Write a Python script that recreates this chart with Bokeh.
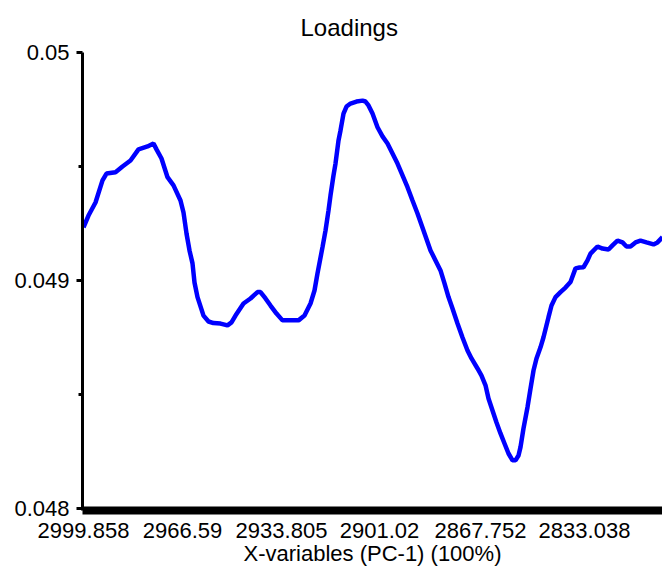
from bokeh.plotting import figure
from bokeh.models import Range1d, FixedTicker
from bokeh.embed import file_html
from bokeh.resources import INLINE

# variable index along the spectrum (left = 2999.858)
var_index = [1, 6, 13, 20, 24, 33, 40, 48, 56, 65, 71, 74, 79, 85, 91, 98, 101, 104, 107, 110,
             112, 115, 121, 126, 131, 138, 145, 149, 153, 161, 168, 175, 178, 183, 188, 194, 200,
             208, 216, 222, 228, 232, 235, 240, 243, 246, 248, 251, 253, 256, 258, 261, 264, 268,
             274, 280, 283, 286, 290, 295, 300, 305, 310, 315, 320, 325, 330, 335, 341, 348, 353,
             358, 362, 366, 370, 375, 380, 385, 389, 395, 399, 403, 406, 410, 414, 418, 422, 426,
             430, 433, 436, 438, 441, 445, 448, 451, 454, 458, 461, 466, 469, 473, 478, 483, 488,
             493, 497, 501, 505, 508, 515, 520, 526, 530, 535, 540, 544, 548, 553, 558, 564, 571,
             575, 580]
loading = [0.049233, 0.049285, 0.049342, 0.049439, 0.049469, 0.049475, 0.049500, 0.049526,
           0.049575, 0.049588, 0.049601, 0.049575, 0.049535, 0.049453, 0.049417, 0.049351,
           0.049298, 0.049206, 0.049132, 0.049075, 0.048991, 0.048927, 0.048846, 0.048820,
           0.048813, 0.048811, 0.048803, 0.048816, 0.048846, 0.048899, 0.048921, 0.048949,
           0.048949, 0.048921, 0.048890, 0.048855, 0.048825, 0.048825, 0.048825, 0.048846,
           0.048899, 0.048956, 0.049031, 0.049146, 0.049219, 0.049307, 0.049373, 0.049461,
           0.049513, 0.049614, 0.049658, 0.049732, 0.049763, 0.049776, 0.049785, 0.049789,
           0.049785, 0.049768, 0.049732, 0.049672, 0.049632, 0.049601, 0.049557, 0.049513,
           0.049461, 0.049409, 0.049351, 0.049294, 0.049219, 0.049132, 0.049088, 0.049044,
           0.048987, 0.048927, 0.048877, 0.048811, 0.048750, 0.048693, 0.048658, 0.048614,
           0.048583, 0.048540, 0.048482, 0.048430, 0.048377, 0.048329, 0.048285, 0.048241,
           0.048211, 0.048211, 0.048232, 0.048269, 0.048351, 0.048444, 0.048526, 0.048605,
           0.048658, 0.048707, 0.048751, 0.048839, 0.048890, 0.048927, 0.048949, 0.048969,
           0.048993, 0.049053, 0.049057, 0.049058, 0.049088, 0.049118, 0.049149, 0.049140,
           0.049136, 0.049154, 0.049175, 0.049167, 0.049149, 0.049149, 0.049167, 0.049175,
           0.049167, 0.049158, 0.049167, 0.049190]

x_tick_pos = [1, 100, 199, 297, 398, 502]
x_tick_labels = ["2999.858", "2966.59", "2933.805", "2901.02", "2867.752", "2833.038"]
y_ticks = [0.048, 0.049, 0.05]
y_tick_labels = ["0.048", "0.049", "0.05"]
y_minor_ticks = [0.0485, 0.0495]

FONT = "Liberation Sans"

p = figure(width=662, height=569, output_backend="svg", toolbar_location=None,
           x_range=Range1d(0, 580), y_range=Range1d(0.047991, 0.05),
           min_border_left=82, min_border_right=0, min_border_top=52, min_border_bottom=59)

p.title.text = "Loadings"
p.title.text_font = FONT
p.title.text_font_size = "24px"
p.title.text_font_style = "normal"
p.title.align = "left"
p.title.offset = 218
p.title.standoff = 23
p.title.text_color = "black"

p.grid.visible = False
p.outline_line_color = None
p.background_fill_color = "white"
p.border_fill_color = "white"

p.line(var_index, loading, line_color="#0000ff", line_width=4.5)

xa = p.xaxis[0]
xa.ticker = FixedTicker(ticks=x_tick_pos)
xa.major_label_overrides = {t: l for t, l in zip(x_tick_pos, x_tick_labels)}
xa.axis_line_width = 8
xa.axis_line_color = "black"
xa.major_tick_line_color = None
xa.minor_tick_line_color = None
xa.major_label_text_font = FONT
xa.major_label_text_font_size = "22px"
xa.major_label_text_color = "black"
xa.major_label_standoff = 6
xa.axis_label = "X-variables (PC-1) (100%)"
xa.axis_label_text_font = FONT
xa.axis_label_text_font_size = "22px"
xa.axis_label_text_font_style = "normal"
xa.axis_label_text_color = "black"
xa.axis_label_standoff = 0

ya = p.yaxis[0]
ya.ticker = FixedTicker(ticks=y_ticks, minor_ticks=y_minor_ticks)
ya.major_label_overrides = {t: l for t, l in zip(y_ticks, y_tick_labels)}
ya.axis_line_width = 3
ya.axis_line_color = "black"
ya.major_tick_line_width = 3
ya.major_tick_out = 6
ya.major_tick_in = 0
ya.minor_tick_line_width = 3
ya.minor_tick_out = 4
ya.minor_tick_in = 0
ya.major_label_text_font = FONT
ya.major_label_text_font_size = "22px"
ya.major_label_text_color = "black"
ya.major_label_standoff = 7

open("out.html", "w").write(file_html(p, INLINE))
